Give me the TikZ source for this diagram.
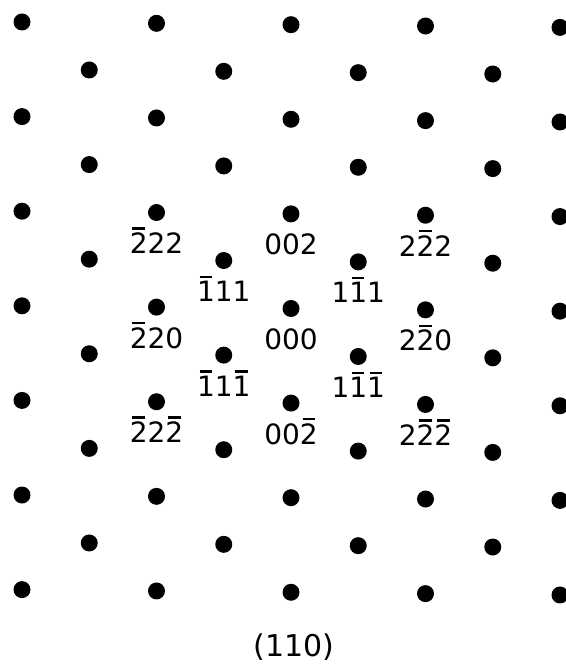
\documentclass[tikz,border=0pt]{standalone}
\usepackage{fontspec}
\setmainfont{DejaVu Sans}
\newcommand\nb[1]{\setbox0=\hbox{#1}\rlap{\hspace{0.15\wd0}\rule[\dimexpr\ht0+3pt\relax]{0.7\wd0}{2.5pt}}\box0\relax}
\tikzset{
  dot/.style={circle, fill=black, inner sep=0pt, minimum size=17pt},
  lab/.style={anchor=base, inner sep=0pt, font=\fontsize{28}{30}\selectfont},
  captext/.style={inner sep=0pt, font=\fontsize{30}{34}\selectfont}
}
\begin{document}
\begin{tikzpicture}[x=1pt, y=-1pt]
\path[use as bounding box] (0,0) rectangle (565,668);
\foreach \r in {0,2,...,12}{
  \foreach \c in {0,2,...,8}{
    \pgfmathsetmacro\xx{22+67.25*\c}
    \pgfmathsetmacro\yy{22+47.3*\r+0.01*67.25*\c}
    \node[dot] (d\r-\c) at (\xx,\yy) {};
  }
}
\foreach \r in {1,3,...,11}{
  \foreach \c in {1,3,...,7}{
    \pgfmathsetmacro\xx{22+67.25*\c}
    \pgfmathsetmacro\yy{22+47.3*\r+0.01*67.25*\c}
    \node[dot] (d\r-\c) at (\xx,\yy) {};
  }
}
% labels
\node[lab] (la1) at ([yshift=-41pt]d4-2.center) {\nb{2}22};
\node[lab] (la2) at ([yshift=-41pt]d4-4.center) {002};
\node[lab] (la3) at ([yshift=-41pt]d4-6.center) {2\nb{2}2};
\node[lab] (la4) at ([yshift=-41pt]d5-3.center) {\nb{1}11};
\node[lab] (la5) at ([yshift=-41pt]d5-5.center) {1\nb{1}1};
\node[lab] (la6) at ([yshift=-41pt]d6-2.center) {\nb{2}20};
\node[lab] (la7) at ([yshift=-41pt]d6-4.center) {000};
\node[lab] (la8) at ([yshift=-41pt]d6-6.center) {2\nb{2}0};
\node[lab] (la9) at ([yshift=-41pt]d7-3.center) {\nb{1}1\nb{1}};
\node[lab] (la10) at ([yshift=-41pt]d7-5.center) {1\nb{1}\nb{1}};
\node[lab] (la11) at ([yshift=-41pt]d8-2.center) {\nb{2}2\nb{2}};
\node[lab] (la12) at ([yshift=-41pt]d8-4.center) {00\nb{2}};
\node[lab] (la13) at ([yshift=-41pt]d8-6.center) {2\nb{2}\nb{2}};
\node[captext] (caption) at (294,647) {(110)};
\end{tikzpicture}
\end{document}
